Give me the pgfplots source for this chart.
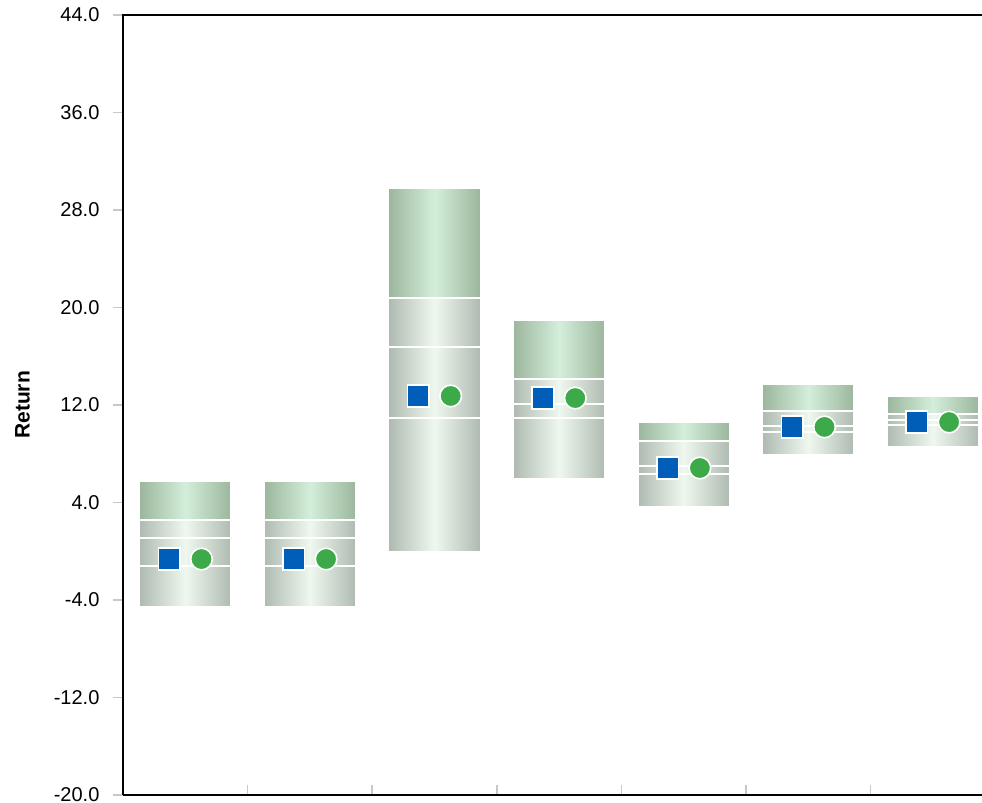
\documentclass[border=0pt]{standalone}
\usepackage{pgfplots}
\usepackage{pgfplotstable}
\pgfplotsset{compat=1.18}
\usepackage{fontspec}
\setmainfont{Liberation Sans}
\definecolor{topedge}{HTML}{9CB69D}
\definecolor{topmid}{HTML}{D3EEDA}
\definecolor{lowedge}{HTML}{AEBAB1}
\definecolor{lowmid}{HTML}{EFF8EF}
\definecolor{mblue}{HTML}{005EB8}
\definecolor{mgreen}{HTML}{3DAA49}
\definecolor{tickgray}{HTML}{C8C8C8}

% x: category position; p5..p95: band edges; mean: marker value
\pgfplotstableread{
x p5 p25 p50 p75 p95 mean
0 -4.57 -1.21 1.09 2.56 5.76 -0.64
1 -4.57 -1.21 1.09 2.56 5.76 -0.64
2 -0.06 10.93 16.76 20.78 29.80 12.74
3 5.93 10.93 12.08 14.13 18.97 12.57
4 3.63 6.34 7.00 9.05 10.61 6.83
5 7.90 9.78 10.28 11.51 13.72 10.20
6 8.55 10.36 10.77 11.26 12.74 10.60
}\data

\pgfplotsset{
  lowband/.style={draw=white, line width=1pt, left color=lowedge, right color=lowedge, middle color=lowmid},
  topband/.style={draw=white, line width=1pt, left color=topedge, right color=topedge, middle color=topmid},
}

\begin{document}
\begin{tikzpicture}
\begin{axis}[
  width=429.5pt, height=390pt, scale only axis,
  at={(0,0)}, anchor=south west,
  xmin=-0.5, xmax=6.394, ymin=-20, ymax=44,
  axis line style={draw=none},
  xtick={0.5,1.5,2.5,3.5,4.5,5.5}, xticklabels={},
  ytick={-20,-12,-4,4,12,20,28,36,44},
  xtick pos=bottom, ytick pos=left,
  xtick align=inside, ytick align=outside,
  major tick length=4.8pt,
  tick style={tickgray, line width=0.8pt},
  yticklabel style={font=\fontsize{10}{11}\selectfont, anchor=east, inner sep=0pt, xshift=-6.8pt,
    /pgf/number format/.cd, fixed, fixed zerofill, precision=1, assume math mode=true},
  ylabel={Return},
  every axis y label/.style={at={(axis description cs:-0.117,0.5)}, rotate=90, anchor=center,
    font=\fontsize{10.5}{12}\selectfont\bfseries},
  clip=false,
]
\pgfplotsinvokeforeach{0,...,6}{
  \pgfplotstablegetelem{#1}{p5}\of\data \let\va\pgfplotsretval
  \pgfplotstablegetelem{#1}{p25}\of\data \let\vb\pgfplotsretval
  \pgfplotstablegetelem{#1}{p50}\of\data \let\vc\pgfplotsretval
  \pgfplotstablegetelem{#1}{p75}\of\data \let\vd\pgfplotsretval
  \pgfplotstablegetelem{#1}{p95}\of\data \let\ve\pgfplotsretval
  \pgfmathsetmacro\xl{#1-0.37}\pgfmathsetmacro\xr{#1+0.37}
  \edef\next{%
    \noexpand\addplot[lowband] coordinates {(\xl,\va) (\xr,\va) (\xr,\vb) (\xl,\vb)} -- cycle;
    \noexpand\addplot[lowband] coordinates {(\xl,\vb) (\xr,\vb) (\xr,\vc) (\xl,\vc)} -- cycle;
    \noexpand\addplot[lowband] coordinates {(\xl,\vc) (\xr,\vc) (\xr,\vd) (\xl,\vd)} -- cycle;
    \noexpand\addplot[topband] coordinates {(\xl,\vd) (\xr,\vd) (\xr,\ve) (\xl,\ve)} -- cycle;
  }\next
}
\addplot[only marks, mark=square*, mark size=5.4pt, mark options={fill=mblue, draw=white, line width=0.8pt}]
  table[x expr=\thisrow{x}-0.13, y=mean] {\data};
\addplot[only marks, mark=*, mark size=5.4pt, mark options={fill=mgreen, draw=white, line width=0.8pt}]
  table[x expr=\thisrow{x}+0.13, y=mean] {\data};
\draw[black, line width=1pt] (rel axis cs:0,0) -- (rel axis cs:1.02,0);
\draw[black, line width=1pt] (rel axis cs:0,0) -- (rel axis cs:0,1) -- (rel axis cs:1.02,1);
\end{axis}
\pgfresetboundingbox
\useasboundingbox (-61.5pt,-4pt) rectangle (429.5pt,397.5pt);
\end{tikzpicture}
\end{document}
